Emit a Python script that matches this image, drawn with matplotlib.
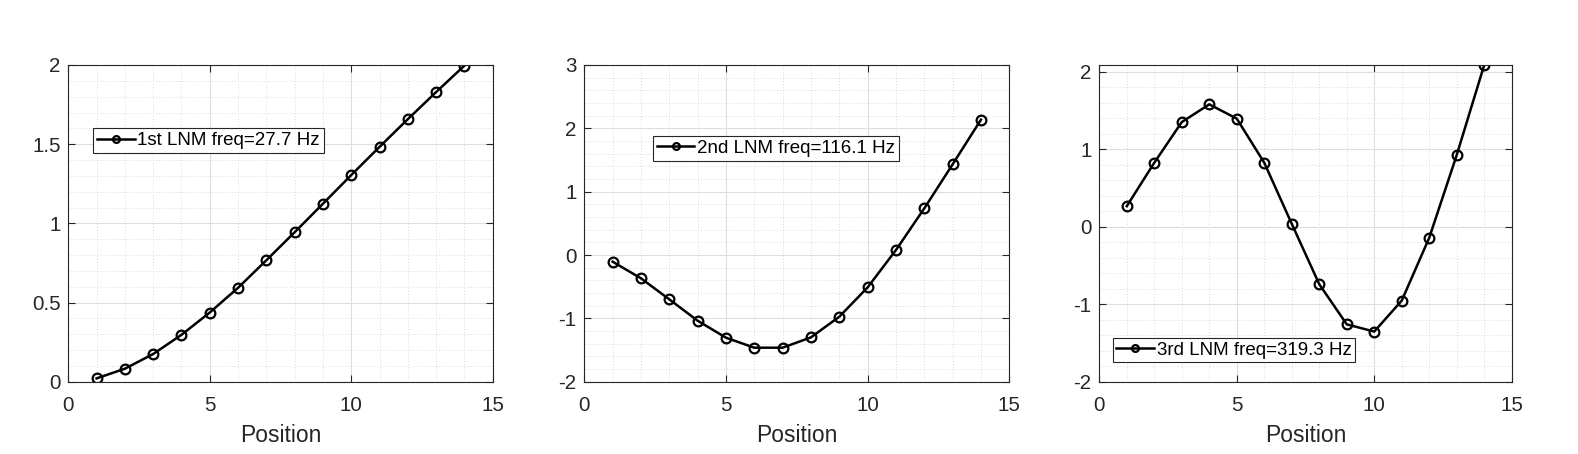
import matplotlib
matplotlib.use("Agg")
import matplotlib.pyplot as plt
from matplotlib.ticker import MultipleLocator

plt.rcParams['font.family'] = ['Liberation Sans', 'DejaVu Sans']

position = list(range(1, 15))
mode1 = [0.021, 0.082, 0.175, 0.296, 0.437, 0.593, 0.767, 0.944, 1.124, 1.305, 1.483, 1.658, 1.829, 1.996]
mode2 = [-0.105, -0.368, -0.70, -1.037, -1.305, -1.463, -1.463, -1.30, -0.974, -0.511, 0.079, 0.737, 1.432, 2.137]
mode3 = [0.267, 0.828, 1.353, 1.582, 1.397, 0.828, 0.039, -0.741, -1.259, -1.353, -0.953, -0.142, 0.927, 2.09]
labels = ['1st LNM freq=27.7 Hz', '2nd LNM freq=116.1 Hz', '3rd LNM freq=319.3 Hz']
ylims = [(0, 2), (-2, 3), (-2, max(mode3))]
ymajor = [0.5, 1, 1]
yminor = [0.1, 0.2, 0.2]
xticks = [0, 5, 10, 15]

W, H = 1578, 454
fig = plt.figure(figsize=(W / 100, H / 100), dpi=100)
boxes = [(68.3, 492.7), (584.3, 1009.3), (1099.3, 1511.7)]
top_px, bot_px = 65, 381.7
leg_anchor = [(0.059, 0.800), (0.162, 0.776), (0.0325, 0.139)]

gray = (0.15, 0.15, 0.15)
for i, (data, lab) in enumerate(zip([mode1, mode2, mode3], labels)):
    l, r = boxes[i]
    ax = fig.add_axes([l / W, 1 - bot_px / H, (r - l) / W, (bot_px - top_px) / H])
    ax.plot(position, data, '-o', color='black', lw=1.8, ms=7, mfc='none', mew=1.6, label=lab)
    ax.set_xlim(0, 15)
    ax.set_xticks(xticks)
    ax.xaxis.set_minor_locator(MultipleLocator(1))
    ax.yaxis.set_major_locator(MultipleLocator(ymajor[i]))
    ax.yaxis.set_minor_locator(MultipleLocator(yminor[i]))
    ax.yaxis.set_major_formatter(matplotlib.ticker.FuncFormatter(lambda v, p: f"{v:g}"))
    ax.set_ylim(*ylims[i])
    ax.grid(True, which='major', color=(0.87, 0.87, 0.87), lw=0.8, ls='-')
    ax.grid(True, which='minor', color=(0.85, 0.85, 0.85), lw=0.7, ls=(0, (1, 2)))
    ax.set_axisbelow(True)
    ax.tick_params(which='both', direction='in', top=True, right=True, colors=gray,
                   labelsize=14.8, labelcolor=gray)
    ax.tick_params(which='major', length=5, width=0.8)
    ax.tick_params(axis='x', which='major', pad=10.5)
    ax.tick_params(axis='y', which='major', pad=5.5)
    ax.tick_params(which='minor', length=0)
    for s in ax.spines.values():
        s.set_color(gray)
        s.set_linewidth(0.8)
    ax.set_xlabel('Position', fontsize=16.5, color=gray, labelpad=6)
    leg = ax.legend(loc='upper left', bbox_to_anchor=leg_anchor[i], fontsize=13.5,
                    fancybox=False, framealpha=1, edgecolor=(0.15, 0.15, 0.15),
                    handlelength=2.0, handletextpad=0.15, borderpad=0.2,
                    borderaxespad=0, markerscale=0.7)
    leg.get_frame().set_linewidth(0.8)

fig.savefig('out.png', dpi=100)
